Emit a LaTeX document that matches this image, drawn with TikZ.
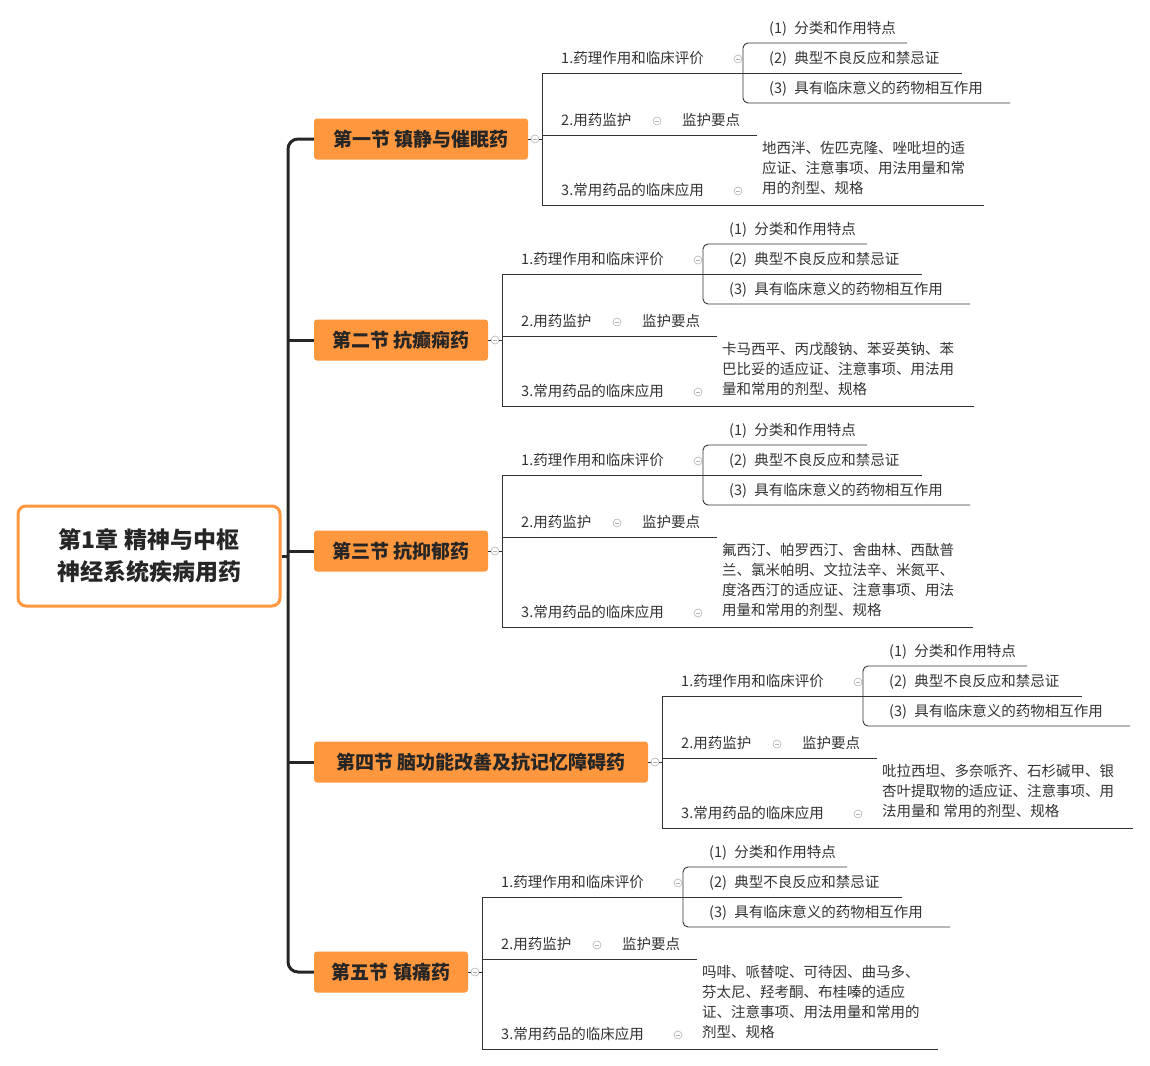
\documentclass[tikz,border=0pt]{standalone}
\usepackage{fontspec}
\setmainfont{Noto Sans CJK SC}
\begin{document}
\begin{tikzpicture}[x=1pt,y=-1pt,
  ln/.style={draw=black!80,line width=0.9pt},
  txt/.style={anchor=west,inner sep=0pt,text=black!80,font=\fontsize{14.5}{20}\selectfont},
  sectbox/.style={fill=orange!75!yellow!95!red,fill=colSect,rounded corners=3pt,minimum height=41pt,inner sep=0pt,text=black!85,font=\fontsize{19}{22}\selectfont\bfseries},
  tog/.style={circle,draw=gray!60,line width=0.6pt,minimum size=8pt,inner sep=0pt,path picture={\draw[gray!60,line width=0.6pt] ([xshift=-2pt]path picture bounding box.center)--([xshift=2pt]path picture bounding box.center);}}]
\definecolor{colSect}{HTML}{FF973E}
\useasboundingbox (0,0) rectangle (1150,1065);
\node[draw=colSect,line width=3pt,rounded corners=8pt,fill=white,minimum width=262pt,minimum height=100pt,align=center,font=\fontsize{23}{32}\selectfont\bfseries,text=black!85] (root) at (149,556) {第1章 精神与中枢\\神经系统疾病用药};
\foreach \p/\bx/\cy/\sa/\ia/\ib/\ic/\ex/\dt/\ttl/\desc in {
 1/528/139/29/58/120/190/984/151/{第一节 镇静与催眠药}/{地西泮、佐匹克隆、唑吡坦的适\\应证、注意事项、用法用量和常\\用的剂型、规格},
 2/488/340/230/259/321/391/974/352/{第二节 抗癫痫药}/{卡马西平、丙戊酸钠、苯妥英钠、苯\\巴比妥的适应证、注意事项、用法用\\量和常用的剂型、规格},
 3/488/551/431/460/522/612/973/553/{第三节 抗抑郁药}/{氟西汀、帕罗西汀、舍曲林、西酞普\\兰、氯米帕明、文拉法辛、米氮平、\\度洛西汀的适应证、注意事项、用法\\用量和常用的剂型、规格},
 4/648/762/652/681/743/813/1133/774/{第四节 脑功能改善及抗记忆障碍药}/{吡拉西坦、多奈哌齐、石杉碱甲、银\\杏叶提取物的适应证、注意事项、用\\法用量和 常用的剂型、规格},
 5/468/972/853/882/944/1034/938/975/{第五节 镇痛药}/{吗啡、哌替啶、可待因、曲马多、\\芬太尼、羟考酮、布桂嗪的适应\\证、注意事项、用法用量和常用的\\剂型、规格}}
{
 \pgfmathsetmacro\ix{\bx+14}
 \pgfmathsetmacro\bk{\ix+201}
 \node[sectbox,minimum width={\bx-314}] (s\p) at ({(\bx+314)/2},\cy) {\ttl};
 \node[tog] (t\p) at ({\bx+7},\cy) {};
 \draw[ln] (s\p.east) -- (t\p.west);
 \draw[ln] (t\p.east) -- (\ix,\cy);
 \coordinate (v\p a) at (\ix,{\ia+15});
 \coordinate (v\p c) at (\ix,{\ic+15});
 \draw[ln] (v\p a) -- (v\p c);
 % items
 \node[txt] (i\p a) at ({\ix+19},\ia) {1.药理作用和临床评价};
 \node[tog] (g\p a) at ({\ix+196},{\ia+1}) {};
 \draw[ln] (v\p a) -- (\bk,{\ia+15});
 \node[txt] (i\p b) at ({\ix+19},\ib) {2.用药监护};
 \node[tog] (g\p b) at ({\ix+115},{\ib+1}) {};
 \node[txt] (m\p) at ({\ix+140},\ib) {监护要点};
 \draw[ln] (\ix,{\ib+15}) -- ({\ix+215},{\ib+15});
 \node[txt] (i\p c) at ({\ix+19},\ic) {3.常用药品的临床应用};
 \node[tog] (g\p c) at ({\ix+196},{\ic+1}) {};
 \draw[ln] (v\p c) -- (\ex,{\ic+15});
 \node[txt,anchor=north west,align=left] (d\p) at ({\ix+220},{\dt-10}) {\desc};
 % subs
 \node[txt] (u\p a) at ({\bk+26},\sa) {(1)\enspace 分类和作用特点};
 \node[txt] (u\p b) at ({\bk+26},{\sa+30}) {(2)\enspace 典型不良反应和禁忌证};
 \node[txt] (u\p c) at ({\bk+26},{\sa+60}) {(3)\enspace 具有临床意义的药物相互作用};
 \draw[ln,rounded corners=5pt] ({\bk+164},{\sa+14}) -- (\bk,{\sa+14}) -- (\bk,{\sa+74}) -- ({\bk+267},{\sa+74});
 \draw[ln] (\bk,{\sa+44}) -- ({\bk+219},{\sa+44});
}
\draw[black!85,line width=3pt,rounded corners=10pt] (s1.west) -- (288,139) -- (288,972) -- (s5.west);
\foreach \p in {2,3,4} \draw[black!85,line width=3pt] (288,0 |- s\p.west) -- (s\p.west);
\draw[black!85,line width=3pt] (root.east) -- (288,556);
\end{tikzpicture}
\end{document}
